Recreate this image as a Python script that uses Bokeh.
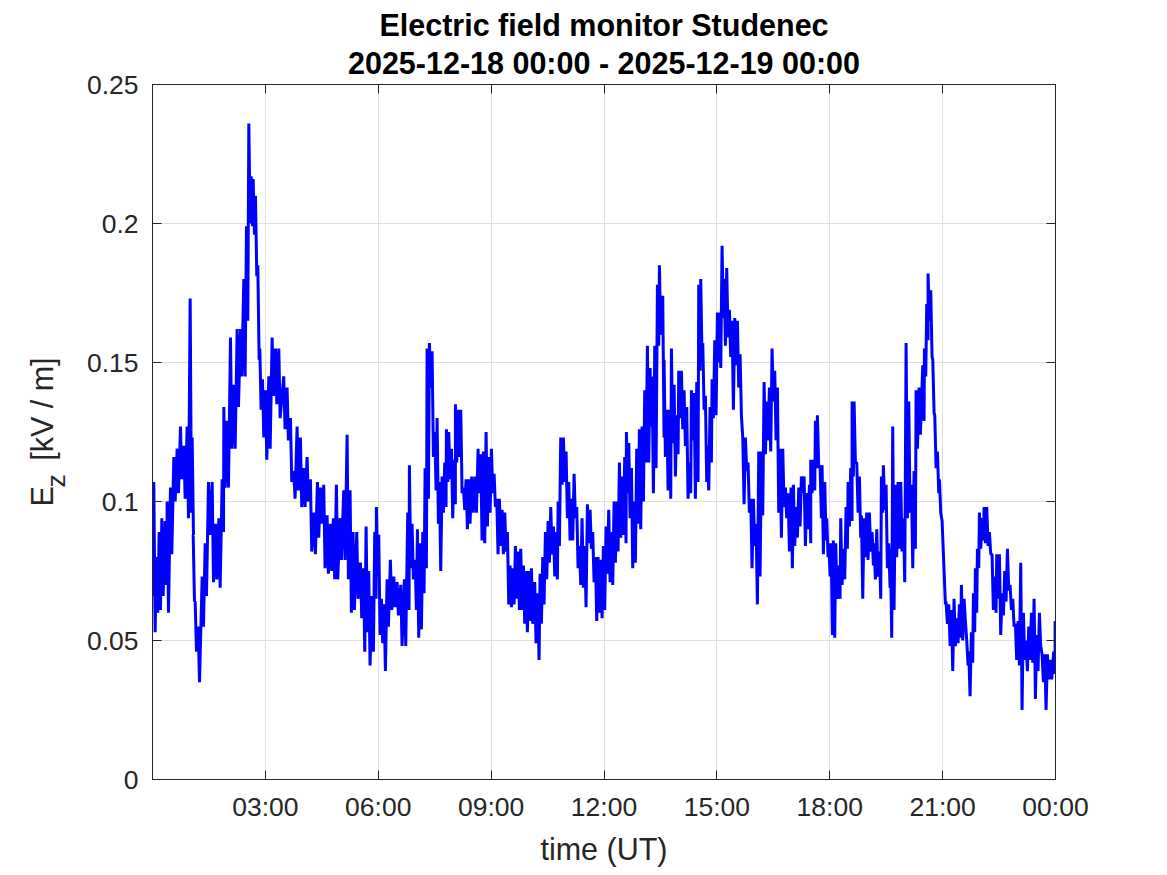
import math
from bokeh.plotting import figure
from bokeh.models import FixedTicker, LinearAxis, Title, Range1d, ColumnDataSource
from bokeh.embed import file_html
from bokeh.resources import INLINE

# ---------------- data ----------------
title_line1 = "Electric field monitor Studenec"
title_line2 = "2025-12-18 00:00 - 2025-12-19 00:00"
x_label = "time (UT)"
y_label_main = "E\u00a0\u00a0\u00a0[kV / m]"
y_label_sub = "z"
x_tick_hours = [3, 6, 9, 12, 15, 18, 21, 24]
x_tick_labels = ["03:00", "06:00", "09:00", "12:00", "15:00", "18:00", "21:00", "00:00"]
y_ticks = [0, 0.05, 0.1, 0.15, 0.2, 0.25]
y_tick_labels = ["0", "0.05", "0.1", "0.15", "0.2", "0.25"]

# time of day (hours UT) and the upper / lower values read in each short interval (kV/m)
t_hours = [
    0.00, 0.035, 0.106, 0.177, 0.248, 0.337, 0.390, 0.478, 0.567, 0.655, 0.744, 0.833, 0.921, 1.001, 1.054, 1.081,
    1.134, 1.214, 1.320, 1.400, 1.488, 1.586, 1.674, 1.763, 1.852, 1.896, 1.984, 2.073, 2.162, 2.250, 2.339, 2.427,
    2.498, 2.560, 2.622, 2.675, 2.737, 2.799, 2.852, 2.923, 3.003, 3.092, 3.180, 3.269, 3.357,
    3.488, 3.577, 3.666, 3.754, 3.843, 3.931, 4.020, 4.109, 4.197, 4.295, 4.383, 4.463, 4.551, 4.640, 4.729, 4.808,
    4.888, 4.986, 5.083, 5.172, 5.251, 5.331, 5.429, 5.526, 5.606, 5.677, 5.747, 5.836, 5.907, 5.951, 6.013, 6.084,
    6.155, 6.235, 6.323, 6.412, 6.501, 6.598, 6.695,
    6.784, 6.828, 6.899, 6.979, 7.041, 7.112, 7.183, 7.245, 7.298, 7.360, 7.431, 7.502, 7.564, 7.626, 7.697, 7.767,
    7.812, 7.874, 7.945, 8.015, 8.051, 8.122, 8.193, 8.264, 8.334, 8.405, 8.485, 8.574, 8.653, 8.724, 8.795, 8.866,
    8.937, 9.008, 9.079, 9.149, 9.220, 9.291, 9.362, 9.433, 9.504, 9.575, 9.646, 9.716, 9.787, 9.858, 9.929, 10.000,
    10.071, 10.159,
    10.239, 10.301, 10.372, 10.443, 10.514, 10.585, 10.656, 10.726, 10.780, 10.850, 10.921, 10.992, 11.063, 11.134,
    11.205, 11.276, 11.347, 11.417, 11.488, 11.559, 11.630, 11.701, 11.772, 11.843, 11.914, 11.984, 12.055, 12.126,
    12.197, 12.268, 12.339, 12.410, 12.481, 12.551, 12.596, 12.658, 12.729, 12.799, 12.870, 12.941, 13.012, 13.083,
    13.154, 13.225, 13.278, 13.349, 13.420, 13.473, 13.561,
    13.597, 13.668, 13.739, 13.792, 13.863, 13.934, 13.987, 14.058, 14.128, 14.199, 14.270, 14.323, 14.394, 14.465,
    14.518, 14.571, 14.625, 14.695, 14.749, 14.819, 14.873, 14.944, 15.014, 15.068, 15.138, 15.192, 15.262, 15.333,
    15.404, 15.475, 15.546, 15.617, 15.688, 15.759, 15.829, 15.900, 15.971, 16.042, 16.113, 16.184, 16.255, 16.326,
    16.396, 16.467, 16.538, 16.609, 16.680, 16.751, 16.822, 16.893, 16.972,
    17.034, 17.105, 17.176, 17.247, 17.318, 17.389, 17.460, 17.495, 17.566, 17.619, 17.672, 17.743, 17.796, 17.867,
    17.920, 17.974, 18.036, 18.097, 18.159, 18.239, 18.292, 18.363, 18.434, 18.487, 18.558, 18.594, 18.647, 18.718,
    18.788, 18.842, 18.912, 18.983, 19.054, 19.125, 19.178, 19.249, 19.320, 19.373, 19.426, 19.497, 19.568, 19.612,
    19.674, 19.745, 19.816, 19.887, 19.958, 20.029, 20.100, 20.171, 20.241, 20.295, 20.374,
    20.472, 20.516, 20.578, 20.613, 20.684, 20.738, 20.791, 20.862, 20.915, 20.986, 21.039, 21.092, 21.163, 21.234,
    21.304, 21.375, 21.446, 21.499, 21.570, 21.641, 21.694, 21.765, 21.818, 21.871, 21.925, 21.978, 22.049, 22.102,
    22.173, 22.244, 22.314, 22.385, 22.438, 22.509, 22.580, 22.651, 22.722, 22.793, 22.864, 22.934, 23.005, 23.076,
    23.147, 23.218, 23.289, 23.360, 23.431, 23.501, 23.572, 23.643, 23.714, 23.785, 23.865, 23.953, 23.990,
]
ez_high = [
    0.088, 0.107, 0.080, 0.089, 0.094, 0.093, 0.100, 0.105, 0.116, 0.119, 0.127, 0.120, 0.127, 0.173, 0.123, 0.088,
    0.064, 0.055, 0.073, 0.085, 0.107, 0.107, 0.092, 0.094, 0.108, 0.134, 0.129, 0.159, 0.142, 0.162, 0.162, 0.180,
    0.199, 0.236, 0.217, 0.216, 0.210, 0.185, 0.155, 0.144, 0.140, 0.145, 0.159, 0.155, 0.155,
    0.145, 0.141, 0.130, 0.111, 0.127, 0.123, 0.112, 0.116, 0.108, 0.096, 0.107, 0.105, 0.106, 0.095, 0.092, 0.094,
    0.106, 0.094, 0.104, 0.124, 0.104, 0.089, 0.089, 0.078, 0.076, 0.091, 0.075, 0.066, 0.089, 0.098, 0.088, 0.065,
    0.063, 0.072, 0.079, 0.073, 0.071, 0.070, 0.072,
    0.096, 0.113, 0.092, 0.079, 0.090, 0.085, 0.089, 0.112, 0.155, 0.157, 0.154, 0.125, 0.130, 0.107, 0.109, 0.114,
    0.126, 0.125, 0.119, 0.115, 0.135, 0.133, 0.133, 0.105, 0.108, 0.108, 0.109, 0.109, 0.119, 0.117, 0.118, 0.125,
    0.116, 0.119, 0.110, 0.101, 0.101, 0.097, 0.096, 0.089, 0.077, 0.076, 0.084, 0.082, 0.083, 0.077, 0.075, 0.075,
    0.076, 0.071,
    0.067, 0.074, 0.080, 0.089, 0.093, 0.098, 0.091, 0.089, 0.100, 0.123, 0.123, 0.118, 0.107, 0.101,
    0.110, 0.098, 0.084, 0.094, 0.084, 0.099, 0.097, 0.089, 0.080, 0.080, 0.079, 0.084, 0.091, 0.097,
    0.089, 0.100, 0.100, 0.114, 0.109, 0.116, 0.125, 0.121, 0.112, 0.100, 0.119, 0.126, 0.127, 0.140,
    0.156, 0.148, 0.145, 0.156, 0.178, 0.185, 0.174,
    0.151, 0.133, 0.133, 0.155, 0.142, 0.131, 0.147, 0.147, 0.140, 0.134, 0.114, 0.140, 0.139, 0.143,
    0.178, 0.180, 0.157, 0.138, 0.120, 0.134, 0.144, 0.158, 0.168, 0.168, 0.192, 0.180, 0.184, 0.169,
    0.165, 0.166, 0.165, 0.153, 0.123, 0.123, 0.114, 0.101, 0.101, 0.092, 0.118, 0.118, 0.143, 0.136,
    0.141, 0.155, 0.147, 0.141, 0.119, 0.119, 0.105, 0.103, 0.105,
    0.106, 0.098, 0.105, 0.109, 0.109, 0.103, 0.106, 0.115, 0.115, 0.129, 0.131, 0.113, 0.113, 0.107,
    0.094, 0.085, 0.085, 0.086, 0.085, 0.077, 0.094, 0.083, 0.098, 0.107, 0.112, 0.136, 0.136, 0.114,
    0.109, 0.095, 0.094, 0.096, 0.096, 0.089, 0.085, 0.090, 0.082, 0.109, 0.113, 0.106, 0.085, 0.083,
    0.127, 0.106, 0.107, 0.107, 0.094, 0.157, 0.136, 0.106, 0.111, 0.140, 0.141,
    0.149, 0.155, 0.171, 0.182, 0.176, 0.151, 0.131, 0.118, 0.108, 0.093, 0.075, 0.064, 0.063, 0.061,
    0.065, 0.058, 0.063, 0.070, 0.065, 0.050, 0.046, 0.053, 0.067, 0.076, 0.083, 0.096, 0.094, 0.098,
    0.098, 0.089, 0.081, 0.073, 0.081, 0.081, 0.067, 0.075, 0.083, 0.070, 0.065, 0.056, 0.057, 0.078,
    0.060, 0.050, 0.055, 0.060, 0.065, 0.052, 0.060, 0.045, 0.045, 0.045, 0.043, 0.046, 0.057,
]
ez_low = [
    0.066, 0.053, 0.060, 0.061, 0.066, 0.070, 0.060, 0.081, 0.100, 0.103, 0.108, 0.101, 0.094, 0.096, 0.088, 0.064,
    0.046, 0.035, 0.055, 0.066, 0.088, 0.071, 0.072, 0.069, 0.089, 0.105, 0.105, 0.119, 0.119, 0.134, 0.145, 0.145,
    0.165, 0.200, 0.199, 0.196, 0.181, 0.151, 0.133, 0.123, 0.115, 0.119, 0.138, 0.135, 0.130,
    0.126, 0.122, 0.107, 0.101, 0.104, 0.098, 0.098, 0.100, 0.082, 0.081, 0.087, 0.092, 0.076, 0.074, 0.075, 0.072,
    0.072, 0.079, 0.079, 0.072, 0.060, 0.061, 0.065, 0.058, 0.046, 0.053, 0.041, 0.046, 0.065, 0.073, 0.052, 0.049,
    0.039, 0.055, 0.061, 0.062, 0.059, 0.048, 0.048,
    0.061, 0.076, 0.072, 0.061, 0.051, 0.054, 0.067, 0.076, 0.101, 0.141, 0.116, 0.104, 0.092, 0.075, 0.096, 0.098,
    0.107, 0.108, 0.094, 0.099, 0.114, 0.116, 0.103, 0.097, 0.090, 0.092, 0.096, 0.096, 0.103, 0.086, 0.085, 0.091,
    0.096, 0.103, 0.098, 0.081, 0.084, 0.081, 0.082, 0.063, 0.062, 0.063, 0.065, 0.061, 0.061, 0.056, 0.053, 0.057,
    0.056, 0.049,
    0.043, 0.056, 0.063, 0.072, 0.078, 0.081, 0.073, 0.072, 0.084, 0.106, 0.107, 0.094, 0.086, 0.086,
    0.094, 0.076, 0.070, 0.069, 0.062, 0.085, 0.083, 0.071, 0.057, 0.060, 0.058, 0.061, 0.074, 0.071,
    0.070, 0.078, 0.082, 0.087, 0.088, 0.085, 0.103, 0.094, 0.076, 0.078, 0.092, 0.090, 0.100, 0.114,
    0.114, 0.127, 0.103, 0.112, 0.156, 0.160, 0.123,
    0.116, 0.104, 0.101, 0.121, 0.109, 0.117, 0.130, 0.126, 0.120, 0.101, 0.103, 0.122, 0.101, 0.107,
    0.147, 0.151, 0.133, 0.107, 0.104, 0.114, 0.130, 0.131, 0.150, 0.148, 0.166, 0.156, 0.159, 0.152,
    0.133, 0.149, 0.141, 0.131, 0.099, 0.111, 0.096, 0.076, 0.084, 0.063, 0.073, 0.095, 0.117, 0.122,
    0.118, 0.136, 0.122, 0.096, 0.087, 0.098, 0.094, 0.082, 0.076,
    0.084, 0.087, 0.091, 0.103, 0.084, 0.090, 0.085, 0.103, 0.104, 0.112, 0.112, 0.094, 0.081, 0.086,
    0.080, 0.073, 0.052, 0.051, 0.065, 0.065, 0.070, 0.072, 0.083, 0.091, 0.093, 0.109, 0.114, 0.096,
    0.087, 0.065, 0.080, 0.079, 0.082, 0.077, 0.072, 0.073, 0.065, 0.096, 0.097, 0.076, 0.069, 0.051,
    0.061, 0.080, 0.083, 0.082, 0.071, 0.094, 0.096, 0.076, 0.083, 0.119, 0.124,
    0.129, 0.145, 0.158, 0.165, 0.152, 0.132, 0.112, 0.103, 0.096, 0.081, 0.063, 0.056, 0.048, 0.039,
    0.048, 0.049, 0.051, 0.050, 0.057, 0.041, 0.030, 0.042, 0.053, 0.060, 0.076, 0.083, 0.086, 0.085,
    0.084, 0.081, 0.061, 0.060, 0.065, 0.052, 0.059, 0.064, 0.068, 0.061, 0.055, 0.043, 0.041, 0.025,
    0.043, 0.039, 0.043, 0.042, 0.029, 0.039, 0.048, 0.035, 0.025, 0.036, 0.036, 0.038, 0.042,
]

# interleave the upper and lower readings into one measured trace
t_series, ez_series = [], []
for th, hi, lo in zip(t_hours, ez_high, ez_low):
    t_series.append(th)
    ez_series.append(hi)
    t_series.append(min(th + 0.035, 24.0))
    ez_series.append(lo)

# ---------------- styling ----------------
FONT = "Liberation Sans"
AX = "#262626"
TICK_FS = "26.5px"
LBL_FS = "30.5px"

p = figure(
    frame_width=903, frame_height=695,
    x_range=Range1d(0, 24), y_range=Range1d(0, 0.25),
    output_backend="svg", toolbar_location=None,
    min_border_left=152, min_border_top=84, min_border_right=40, min_border_bottom=40,
    background_fill_color="white", border_fill_color="white",
)
p.outline_line_color = AX
p.outline_line_width = 1

src = ColumnDataSource(dict(t=t_series, ez=ez_series))
p.line("t", "ez", source=src, line_color="#0000ff", line_width=3)

# axes
for ax in (p.xaxis[0], p.yaxis[0]):
    ax.axis_line_color = AX
    ax.major_tick_line_color = AX
    ax.major_tick_in = 9
    ax.major_tick_out = 0
    ax.minor_tick_line_color = None
    ax.major_label_text_font = FONT
    ax.major_label_text_font_size = TICK_FS
    ax.major_label_text_color = AX

p.xaxis.major_label_standoff = 12
p.yaxis.major_label_standoff = 14
p.xaxis.ticker = FixedTicker(ticks=x_tick_hours)
p.xaxis.major_label_overrides = dict(zip(x_tick_hours, x_tick_labels))
p.xaxis.axis_label = x_label
p.xaxis.axis_label_text_font = FONT
p.xaxis.axis_label_text_font_size = LBL_FS
p.xaxis.axis_label_text_font_style = "normal"
p.xaxis.axis_label_text_color = AX
p.xaxis.axis_label_standoff = 7

p.yaxis.ticker = FixedTicker(ticks=y_ticks)
p.yaxis.major_label_overrides = dict(zip(y_ticks, y_tick_labels))

ra = LinearAxis(ticker=FixedTicker(ticks=y_ticks), major_label_text_font_size="0px", major_label_standoff=0,
                major_tick_in=9, major_tick_out=0, minor_tick_line_color=None,
                axis_line_color=AX, major_tick_line_color=AX)
p.add_layout(ra, "right")
ta = LinearAxis(ticker=FixedTicker(ticks=x_tick_hours), major_label_text_font_size="0px", major_label_standoff=0,
                major_tick_in=9, major_tick_out=0, minor_tick_line_color=None,
                axis_line_color=AX, major_tick_line_color=AX)
p.add_layout(ta, "above")

p.xgrid.ticker = FixedTicker(ticks=x_tick_hours)
p.ygrid.ticker = FixedTicker(ticks=y_ticks)
p.grid.grid_line_color = "#dfdfdf"
p.grid.grid_line_width = 1

# title: two bold centred lines
p.add_layout(Title(text=title_line2, align="center", text_font=FONT, text_font_size=LBL_FS,
                   text_font_style="bold", text_color="black", standoff=10), "above")
p.title.text = title_line1
p.title.align = "center"
p.title.text_font = FONT
p.title.text_font_size = LBL_FS
p.title.text_font_style = "bold"
p.title.text_color = "black"
p.title.standoff = -7

# y-axis label E_z [kV / m]: subscript column next to the axis, main text outside it
p.add_layout(Title(text=y_label_sub, align="left", offset=292, text_font=FONT, text_font_size=TICK_FS,
                   text_font_style="normal", text_color=AX, standoff=26, text_line_height=0.5), "left")
p.add_layout(Title(text=y_label_main, align="center", text_font=FONT, text_font_size=LBL_FS,
                   text_font_style="normal", text_color=AX, standoff=-66), "left")

open("out.html", "w").write(file_html(p, INLINE))
